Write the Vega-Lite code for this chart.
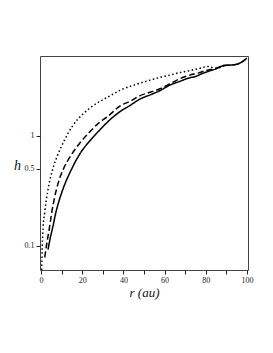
{
  "$schema": "https://vega.github.io/schema/vega-lite/v6.json",
  "width": 208,
  "height": 214,
  "autosize": {"type": "none"},
  "padding": {"left": 40, "top": 56, "right": 25, "bottom": 83},
  "background": "white",
  "config": {
    "view": {"stroke": "#444", "strokeWidth": 1},
    "font": "Liberation Serif"
  },
  "data": {
    "values": [
      {"s": "solid", "r": 3.4, "h": 0.092},
      {"s": "solid", "r": 4.5, "h": 0.118},
      {"s": "solid", "r": 5.8, "h": 0.15},
      {"s": "solid", "r": 7.2, "h": 0.2},
      {"s": "solid", "r": 8.6, "h": 0.25},
      {"s": "solid", "r": 11, "h": 0.34},
      {"s": "solid", "r": 14.7, "h": 0.49},
      {"s": "solid", "r": 19, "h": 0.69},
      {"s": "solid", "r": 24, "h": 0.91},
      {"s": "solid", "r": 28.6, "h": 1.13},
      {"s": "solid", "r": 33, "h": 1.37},
      {"s": "solid", "r": 38.3, "h": 1.65},
      {"s": "solid", "r": 43.2, "h": 1.88},
      {"s": "solid", "r": 48, "h": 2.15},
      {"s": "solid", "r": 53, "h": 2.35},
      {"s": "solid", "r": 57.8, "h": 2.57},
      {"s": "solid", "r": 62, "h": 2.85},
      {"s": "solid", "r": 67.5, "h": 3.12},
      {"s": "solid", "r": 72, "h": 3.35},
      {"s": "solid", "r": 75, "h": 3.45},
      {"s": "solid", "r": 78, "h": 3.65},
      {"s": "solid", "r": 81, "h": 3.83},
      {"s": "solid", "r": 85, "h": 4.05},
      {"s": "solid", "r": 89, "h": 4.35},
      {"s": "solid", "r": 92, "h": 4.38},
      {"s": "solid", "r": 95, "h": 4.45},
      {"s": "solid", "r": 98, "h": 4.75},
      {"s": "solid", "r": 100, "h": 5.06},
      {"s": "dashed", "r": 1.8, "h": 0.078},
      {"s": "dashed", "r": 3, "h": 0.11},
      {"s": "dashed", "r": 4.2, "h": 0.15},
      {"s": "dashed", "r": 5.2, "h": 0.2},
      {"s": "dashed", "r": 6.5, "h": 0.27},
      {"s": "dashed", "r": 8.5, "h": 0.38},
      {"s": "dashed", "r": 10.7, "h": 0.49},
      {"s": "dashed", "r": 14.5, "h": 0.66},
      {"s": "dashed", "r": 18.5, "h": 0.84},
      {"s": "dashed", "r": 23, "h": 1.05},
      {"s": "dashed", "r": 28, "h": 1.3},
      {"s": "dashed", "r": 32.5, "h": 1.5},
      {"s": "dashed", "r": 38.3, "h": 1.86},
      {"s": "dashed", "r": 43.2, "h": 2.05},
      {"s": "dashed", "r": 48.1, "h": 2.31},
      {"s": "dashed", "r": 53, "h": 2.48},
      {"s": "dashed", "r": 57.8, "h": 2.67},
      {"s": "dashed", "r": 62.5, "h": 2.95},
      {"s": "dashed", "r": 67.5, "h": 3.3},
      {"s": "dashed", "r": 72.3, "h": 3.55},
      {"s": "dashed", "r": 76, "h": 3.7},
      {"s": "dashed", "r": 80, "h": 3.9},
      {"s": "dashed", "r": 85, "h": 4.1},
      {"s": "dashed", "r": 89, "h": 4.35},
      {"s": "dashed", "r": 93, "h": 4.4},
      {"s": "dashed", "r": 96, "h": 4.5},
      {"s": "dashed", "r": 100, "h": 5.06},
      {"s": "dotted", "r": 0.3, "h": 0.06},
      {"s": "dotted", "r": 0.6, "h": 0.1},
      {"s": "dotted", "r": 1, "h": 0.146},
      {"s": "dotted", "r": 1.8, "h": 0.2},
      {"s": "dotted", "r": 2.6, "h": 0.262},
      {"s": "dotted", "r": 3.6, "h": 0.34},
      {"s": "dotted", "r": 6, "h": 0.52},
      {"s": "dotted", "r": 8, "h": 0.66},
      {"s": "dotted", "r": 11.5, "h": 0.92},
      {"s": "dotted", "r": 15, "h": 1.2},
      {"s": "dotted", "r": 18, "h": 1.42},
      {"s": "dotted", "r": 20.5, "h": 1.58},
      {"s": "dotted", "r": 23.8, "h": 1.79},
      {"s": "dotted", "r": 28.6, "h": 2.05},
      {"s": "dotted", "r": 33.5, "h": 2.3},
      {"s": "dotted", "r": 38.3, "h": 2.58},
      {"s": "dotted", "r": 43, "h": 2.8},
      {"s": "dotted", "r": 48.1, "h": 3.0},
      {"s": "dotted", "r": 53, "h": 3.2},
      {"s": "dotted", "r": 57.8, "h": 3.39},
      {"s": "dotted", "r": 62.5, "h": 3.55},
      {"s": "dotted", "r": 67.5, "h": 3.76},
      {"s": "dotted", "r": 72, "h": 3.9},
      {"s": "dotted", "r": 76, "h": 4.05},
      {"s": "dotted", "r": 81, "h": 4.25},
      {"s": "dotted", "r": 85, "h": 4.1},
      {"s": "dotted", "r": 89, "h": 4.35}
    ]
  },
  "mark": {"type": "line", "color": "black", "strokeWidth": 1.5, "clip": true, "interpolate": "monotone"},
  "encoding": {
    "x": {
      "field": "r",
      "type": "quantitative",
      "scale": {"domain": [-0.5, 100.5], "nice": false, "zero": false},
      "axis": {
        "values": [0, 10, 20, 30, 40, 50, 60, 70, 80, 90, 100],
        "labelExpr": "datum.value % 20 == 0 ? datum.label : ''",
        "grid": false,
        "domain": false,
        "tickColor": "#222",
        "tickSize": 4,
        "labelFont": "Liberation Serif",
        "labelFontSize": 8,
        "labelColor": "#222",
        "labelPadding": 2,
        "title": "r (au)",
        "titleFont": "Liberation Serif",
        "titleFontStyle": "italic",
        "titleFontWeight": "normal",
        "titleFontSize": 13,
        "titleColor": "#111",
        "titlePadding": 2
      }
    },
    "y": {
      "field": "h",
      "type": "quantitative",
      "scale": {"type": "log", "domain": [0.06, 5.3], "nice": false},
      "axis": {
        "values": [0.1, 0.5, 1],
        "grid": false,
        "domain": false,
        "tickColor": "#222",
        "tickSize": 4,
        "labelFont": "Liberation Serif",
        "labelFontSize": 8,
        "labelColor": "#222",
        "labelPadding": 2,
        "title": "h",
        "titleAngle": 0,
        "titleX": -23,
        "titleY": 109,
        "titleAlign": "center",
        "titleBaseline": "middle",
        "titleFont": "Liberation Serif",
        "titleFontStyle": "italic",
        "titleFontWeight": "normal",
        "titleFontSize": 14,
        "titleColor": "#111"
      }
    },
    "detail": {"field": "s"},
    "strokeDash": {
      "field": "s",
      "type": "nominal",
      "scale": {"domain": ["solid", "dashed", "dotted"], "range": [[1, 0], [6, 3], [1.5, 2.5]]},
      "legend": null
    }
  }
}
